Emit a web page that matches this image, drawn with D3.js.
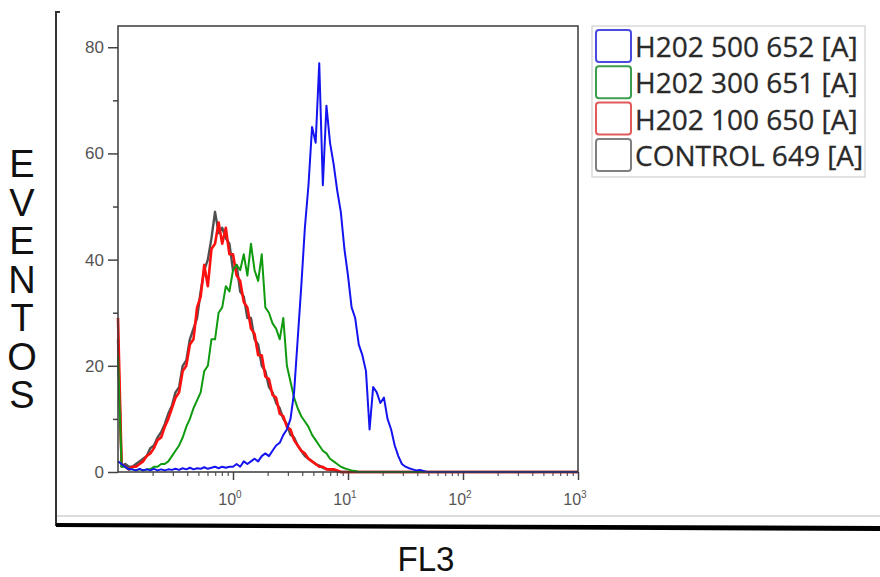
<!DOCTYPE html>
<html>
<head>
<meta charset="utf-8">
<script src="https://cdn.jsdelivr.net/npm/d3@7"></script>
<style>
  body { margin: 0; background: #fff; }
  svg { display: block; }
</style>
</head>
<body>
<div id="chart"></div>
<script>
let width = 880,
    height = 577,
    margin = ({ top: 26, right: 302, bottom: 105, left: 118 }); // plot frame inside the panel

// histogram counts per channel (128 channels over 4 decades, 0.1 .. 1000)
const control649 = [25, 1, 1.5, 1, 1, 1.5, 2, 2.5, 3, 4.5, 5, 6.5, 7.5, 9, 11, 12.5, 15, 16, 20, 21, 25, 27, 29, 34, 38, 40, 44, 49, 45, 46, 44, 43, 38, 39, 34, 33, 29, 29, 25, 24, 20, 19, 16, 15, 13, 12, 10, 9, 7, 6.5, 5, 4, 3, 2.5, 2, 1.5, 1.2, 0.8, 0.6, 0.4, 0.3, 0.2, 0];
const h202_100 = [29, 1.5, 1, 0.5, 1, 1, 1.5, 2, 3, 3.5, 4.5, 6, 6.5, 8.5, 10, 12, 14, 15, 19, 20, 24, 25, 31, 33, 39, 35, 42, 43, 47, 43, 46, 41, 41, 37, 36, 32, 31, 27, 26, 22, 22, 18, 17.5, 14.5, 14, 11, 10.5, 8.5, 8, 6, 5, 4, 3.5, 2.5, 2, 1.5, 1, 1, 0.5, 0.5, 0.5, 0.3, 0];
const h202_300 = [22, 1, 1, 0.5, 0.5, 0.3, 0.5, 0.3, 0.5, 0.5, 1, 1, 1.5, 1.5, 2, 3, 4, 5, 6.5, 8.5, 10, 12, 13.5, 15, 19, 20, 25, 25, 30, 31, 35, 34, 38, 39, 38, 41, 37, 43, 38, 36, 41, 31, 30, 28, 27, 25, 29, 20, 17, 14, 12, 10.5, 9.5, 8.5, 7, 6, 5, 4, 3.5, 2.5, 2, 1.5, 1, 0.7, 0.5, 0.3, 0.2, 0];
const h202_500 = [2, 1.5, 1, 0.5, 0.5, 0.3, 0.6, 0.3, 0.5, 0.3, 0.6, 0.3, 0.5, 0.3, 0.5, 0.4, 0.6, 0.4, 0.7, 0.5, 0.8, 0.5, 0.7, 0.6, 0.9, 0.6, 0.8, 1, 0.7, 1, 0.8, 1, 1, 1.5, 1, 2, 1.5, 2, 2.5, 2, 3, 3.5, 3, 4, 5, 5.5, 7, 8, 10, 15, 25, 35, 46, 54, 65, 62, 77, 54, 69, 62, 58, 53, 49, 42, 37, 31, 29, 24, 22, 19, 8, 16, 15, 13, 14, 10, 8, 5, 3, 1.5, 1, 0.7, 0.5, 0.3, 0.4, 0.2, 0];

const seriesNames = ["H202 500 652 [A]", "H202 300 651 [A]", "H202 100 650 [A]", "CONTROL 649 [A]"];
const seriesValues = [h202_500, h202_300, h202_100, control649];
const lineColors = ["#1414f0", "#109a10", "#ff1010", "#505050"];
const lineWidths = [2, 2, 2.6, 2.4];
const swatchColors = ["#4b4be0", "#3d9e4d", "#e25a5a", "#808080"];

const yMajor = [0, 20, 40, 60, 80];
const yMinor = [10, 30, 50, 70];
const xMajor = [1, 10, 100, 1000];
const xExp = ["0", "1", "2", "3"];
const xMinor = [0.2, 0.3, 0.4, 0.5, 0.6, 0.7, 0.8, 0.9, 2, 3, 4, 5, 6, 7, 8, 9, 20, 30, 40, 50, 60, 70, 80, 90, 200, 300, 400, 500, 600, 700, 800, 900];
const nChannels = 128;

const svg = d3.select("#chart")
  .append("svg")
  .attr("width", width)
  .attr("height", height);

let x = d3.scaleLog()
  .domain([0.1, 1000])
  .range([margin.left, width - margin.right]);

let y = d3.scaleLinear()
  .domain([0, 84])
  .range([height - margin.bottom, margin.top]);

// channel index -> FL3 value on the log axis
let chan = c => Math.pow(10, -1 + 4 * c / nChannels);

// outer panel: light window edge, dark left edge, heavy bottom rule
svg.append("line")
  .attr("x1", 57).attr("x2", width).attr("y1", 516).attr("y2", 516)
  .attr("stroke", "#d0d0d0").attr("stroke-width", 1.5);
svg.append("path")
  .attr("d", "M60,12 H56 V526")
  .attr("fill", "none").attr("stroke", "#333").attr("stroke-width", 2);
svg.append("path")
  .attr("d", "M56,523 L56,527 L880,531 L880,526 Z")
  .attr("fill", "#000");

// axes
svg.append("g")
  .attr("transform", `translate(${margin.left},0)`)
  .call(d3.axisLeft(y).tickValues(yMajor).tickSize(10).tickPadding(4))
  .call(g => g.select(".domain").remove())
  .call(g => g.selectAll("line").attr("stroke", "#444").attr("stroke-width", 1.5))
  .call(g => g.selectAll("text").attr("fill", "#555").attr("font-size", 17)
    .attr("font-family", "Liberation Sans, Arial, sans-serif"));

svg.append("g")
  .attr("transform", `translate(${margin.left},0)`)
  .call(d3.axisLeft(y).tickValues(yMinor).tickSize(5).tickFormat(""))
  .call(g => g.select(".domain").remove())
  .call(g => g.selectAll("line").attr("stroke", "#444").attr("stroke-width", 1.5));

svg.append("g")
  .attr("transform", `translate(0,${height - margin.bottom})`)
  .call(d3.axisBottom(x).tickValues(xMajor).tickSize(8).tickFormat(""))
  .call(g => g.select(".domain").remove())
  .call(g => g.selectAll("line").attr("stroke", "#444").attr("stroke-width", 1.5));

svg.append("g")
  .attr("transform", `translate(0,${height - margin.bottom})`)
  .call(d3.axisBottom(x).tickValues(xMinor).tickSize(4).tickFormat(""))
  .call(g => g.select(".domain").remove())
  .call(g => g.selectAll("line").attr("stroke", "#555").attr("stroke-width", 1.2));

let xl = svg.append("g")
  .attr("font-family", "Liberation Sans, Arial, sans-serif")
  .attr("fill", "#555")
  .selectAll("text")
  .data(xMajor)
  .join("text")
  .attr("x", d => x(d) - 3)
  .attr("y", 505)
  .attr("text-anchor", "middle")
  .attr("font-size", 16)
  .text("10");
xl.append("tspan")
  .attr("dy", -7)
  .attr("font-size", 10)
  .text((d, i) => xExp[i]);

// histograms, drawn control first so blue sits on top
let line = d3.line()
  .x((d, i) => x(chan(i)))
  .y(d => y(d));

svg.append("g")
  .attr("fill", "none")
  .selectAll("path")
  .data(seriesValues.map((v, i) => ({
    v: d3.range(nChannels + 1).map(c => c < v.length ? v[c] : 0),
    color: lineColors[i], w: lineWidths[i]
  })).reverse())
  .join("path")
  .attr("d", d => line(d.v))
  .attr("stroke", d => d.color)
  .attr("stroke-width", d => d.w)
  .attr("stroke-linejoin", "round");

// plot frame
svg.append("rect")
  .attr("x", margin.left).attr("y", margin.top)
  .attr("width", width - margin.left - margin.right)
  .attr("height", height - margin.top - margin.bottom)
  .attr("fill", "none").attr("stroke", "#3a3a3a").attr("stroke-width", 1.5);

// legend
svg.append("rect")
  .attr("x", 592).attr("y", 26).attr("width", 273).attr("height", 151)
  .attr("fill", "#fff").attr("stroke", "#cfcfcf").attr("stroke-width", 1.2);

let leg = svg.append("g")
  .selectAll("g")
  .data(seriesNames)
  .join("g")
  .attr("transform", (d, i) => `translate(596,${30 + i * 36.3})`);

leg.append("rect")
  .attr("x", 0).attr("y", 0).attr("width", 35).attr("height", 32).attr("rx", 3)
  .attr("fill", "#fff")
  .attr("stroke", (d, i) => swatchColors[i])
  .attr("stroke-width", 2);

leg.append("text")
  .attr("x", 39).attr("y", 27)
  .attr("font-family", "Open Sans, sans-serif")
  .attr("font-size", 28)
  .attr("fill", "#2a2a2a")
  .attr("stroke", "#2a2a2a").attr("stroke-width", 0.3)
  .text(d => d);

// axis titles: stacked letters in one text element
svg.append("text")
  .attr("text-anchor", "middle")
  .attr("font-family", "Liberation Sans, Arial, sans-serif")
  .attr("font-size", 38)
  .attr("fill", "#111")
  .selectAll("tspan")
  .data("EVENTOS".split(""))
  .join("tspan")
  .attr("x", 22)
  .attr("y", (d, i) => 177 + i * 38.5)
  .text(d => d);

svg.append("text")
  .attr("x", 426).attr("y", 571)
  .attr("text-anchor", "middle")
  .attr("font-family", "Liberation Sans, Arial, sans-serif")
  .attr("font-size", 35)
  .attr("textLength", 57).attr("lengthAdjust", "spacingAndGlyphs")
  .attr("fill", "#111")
  .text("FL3");
</script>
</body>
</html>
